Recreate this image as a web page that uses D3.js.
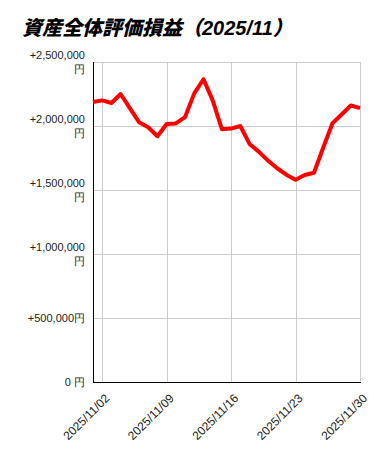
<!DOCTYPE html>
<html>
<head>
<meta charset="utf-8">
<script src="https://cdn.jsdelivr.net/npm/d3@7"></script>
<style>
  body { margin: 0; background: #fff; }
  svg { display: block; }
</style>
</head>
<body>
<script>
(function () {

var dates = ['2025-11-01','2025-11-02','2025-11-03','2025-11-04','2025-11-05','2025-11-06',
  '2025-11-07','2025-11-08','2025-11-09','2025-11-10','2025-11-11','2025-11-12','2025-11-13',
  '2025-11-14','2025-11-15','2025-11-16','2025-11-17','2025-11-18','2025-11-19','2025-11-20',
  '2025-11-21','2025-11-22','2025-11-23','2025-11-24','2025-11-25','2025-11-26','2025-11-27',
  '2025-11-28','2025-11-29','2025-11-30']

var gains = [2187000, 2200000, 2180000, 2250000, 2140000, 2030000, 1990000, 1920000, 2016000,
  2020000, 2070000, 2255000, 2365000, 2200000, 1975000, 1980000, 2000000, 1860000, 1800000,
  1730000, 1670000, 1620000, 1580000, 1617000, 1635000, 1830000, 2020000, 2090000, 2160000, 2140000]

var yTicks = [0, 500000, 1000000, 1500000, 2000000, 2500000]
var yTickLabels = ['0 円', '+500,000円', '+1,000,000|円', '+1,500,000|円', '+2,000,000|円', '+2,500,000|円']

var xTicks = ['2025-11-02', '2025-11-09', '2025-11-16', '2025-11-23', '2025-11-30']
var xTickLabels = ['2025/11/02', '2025/11/09', '2025/11/16', '2025/11/23', '2025/11/30']

var title = '資産全体評価損益（2025/11）'

var width = 379, height = 457
var left = 93, right = 360, top = 62, bottom = 382

var parse = d3.timeParse('%Y-%m-%d')
var data = dates.map(function (d, i) { return { date: parse(d), value: gains[i] } })

var svg = d3.select('body').append('svg')
  .attr('width', width)
  .attr('height', height)

var x = d3.scaleTime()
  .domain(d3.extent(data, function (d) { return d.date }))
  .range([left, right])

var y = d3.scaleLinear()
  .domain([0, 2500000])
  .range([bottom, top])

svg.append('text')
  .attr('x', 22)
  .attr('y', 35)
  .attr('font-family', '"Liberation Sans", "Noto Sans CJK JP", sans-serif')
  .attr('font-weight', 900)
  .attr('font-style', 'italic')
  .attr('font-size', 20)
  .attr('fill', '#000')
  .text(title)

// grid
svg.append('g')
  .selectAll('line')
  .data(yTicks.slice(1))
  .enter().append('line')
  .attr('x1', left).attr('x2', right)
  .attr('y1', function (d) { return y(d) + 0.5 })
  .attr('y2', function (d) { return y(d) + 0.5 })
  .attr('stroke', '#cccccc')

svg.append('g')
  .selectAll('line')
  .data(xTicks)
  .enter().append('line')
  .attr('x1', function (d) { return Math.round(x(parse(d))) + 0.5 })
  .attr('x2', function (d) { return Math.round(x(parse(d))) + 0.5 })
  .attr('y1', top).attr('y2', bottom)
  .attr('stroke', '#cccccc')

// y labels
var yl = svg.append('g')
  .attr('font-family', '"Liberation Sans", Arial, sans-serif')
  .attr('font-size', 11)
  .attr('fill', '#222')
  .attr('text-anchor', 'end')
  .selectAll('text')
  .data(yTicks)
  .enter().append('text')
  .attr('x', 85)
  .attr('y', function (d) { return y(d) })

yl.each(function (d, i) {
  var parts = yTickLabels[i].split('|')
  var t = d3.select(this)
  var off = -(parts.length - 1) * 13.5 / 2
  parts.forEach(function (p, j) {
    t.append('tspan')
      .attr('x', 85)
      .attr('y', y(d) + off + j * 13.5)
      .attr('dy', '0.36em')
      .text(p)
  })
})

// x labels
svg.append('g')
  .attr('font-family', '"Liberation Sans", Arial, sans-serif')
  .attr('font-size', 12)
  .attr('fill', '#222')
  .selectAll('text')
  .data(xTicks)
  .enter().append('text')
  .attr('text-anchor', 'end')
  .attr('transform', function (d) {
    return 'translate(' + (x(parse(d)) + 8) + ' ' + (bottom + 17) + ') rotate(-45)'
  })
  .text(function (d, i) { return xTickLabels[i] })

// axis lines
svg.append('line')
  .attr('x1', left + 0.5).attr('x2', left + 0.5)
  .attr('y1', top).attr('y2', bottom + 1)
  .attr('stroke', '#000')
svg.append('line')
  .attr('x1', left).attr('x2', right + 1)
  .attr('y1', bottom + 0.5).attr('y2', bottom + 0.5)
  .attr('stroke', '#000')

var line = d3.line()
  .x(function (d) { return x(d.date) })
  .y(function (d) { return y(d.value) })

svg.append('path')
  .datum(data)
  .attr('d', line)
  .attr('fill', 'none')
  .attr('stroke', '#ff0000')
  .attr('stroke-width', 4)
  .attr('stroke-linejoin', 'round')

}())
</script>
</body>
</html>
